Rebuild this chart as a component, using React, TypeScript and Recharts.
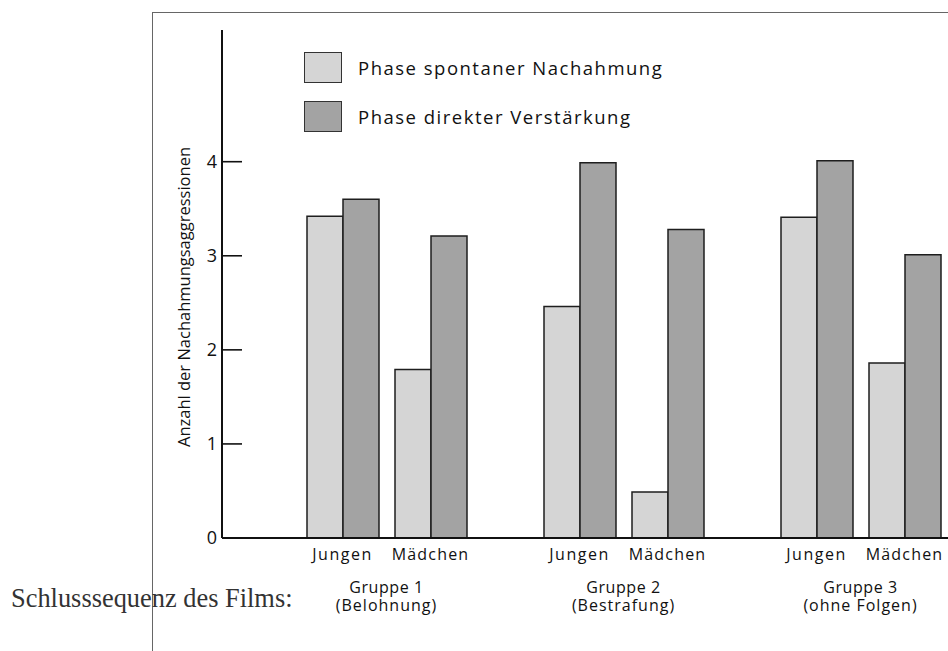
import React from "react";
import { Bar, BarChart, Legend, XAxis, YAxis } from "recharts";

const groups = ["Gruppe 1", "Gruppe 2", "Gruppe 3"];
const conditions = ["(Belohnung)", "(Bestrafung)", "(ohne Folgen)"];
const subLabels = ["Jungen", "Mädchen"];
const yTicks = [0, 1, 2, 3, 4];

// Jungen / Mädchen, je Phase
const jungenSpontan = [3.42, 2.46, 3.41];
const jungenDirekt = [3.6, 3.99, 4.01];
const maedchenSpontan = [1.79, 0.49, 1.86];
const maedchenDirekt = [3.21, 3.28, 3.01];

const seriesNames = ["Phase spontaner Nachahmung", "Phase direkter Verstärkung"];

const COLORS = {
  spontan: "#d5d5d5",
  direkt: "#a3a3a3",
  stroke: "#1e1e1e",
} as const;

const FONT = "'Open Sans', sans-serif";

const data = groups.map((g, i) => ({
  group: g,
  condition: conditions[i],
  jungenSpontan: jungenSpontan[i],
  jungenDirekt: jungenDirekt[i],
  maedchenSpontan: maedchenSpontan[i],
  maedchenDirekt: maedchenDirekt[i],
}));

function GroupTick({ x, y, payload, index }: any) {
  return (
    <g fontFamily={FONT} fill="#111" fontSize={16} textAnchor="middle">
      <text x={x - 44} y={y + 22} letterSpacing={1.5}>
        {subLabels[0]}
      </text>
      <text x={x + 44} y={y + 22} letterSpacing={1.2}>
        {subLabels[1]}
      </text>
      <text x={x} y={y + 55} letterSpacing={0.6}>
        {payload.value}
      </text>
      <text x={x} y={y + 73} letterSpacing={1}>
        {conditions[index]}
      </text>
    </g>
  );
}

function ValueTick({ x, y, payload }: any) {
  return (
    <g>
      <line x1={x + 5} x2={x + 25} y1={y} y2={y} stroke="#111" strokeWidth={1.6} />
      <text
        x={x}
        y={y + 6}
        textAnchor="end"
        fontFamily={FONT}
        fontSize={18}
        fill="#111"
      >
        {payload.value}
      </text>
    </g>
  );
}

function LegendBox() {
  const fills = [COLORS.spontan, COLORS.direkt];
  return (
    <div style={{ fontFamily: FONT }}>
      {seriesNames.map((name, i) => (
        <div
          key={name}
          style={{ display: "flex", alignItems: "center", height: 30, marginBottom: 19 }}
        >
          <div
            style={{
              width: 36,
              height: 29,
              background: fills[i],
              border: `1.5px solid #333`,
              marginRight: 16,
            }}
          />
          <span style={{ fontSize: 18.5, color: "#111", letterSpacing: 1.5 }}>{name}</span>
        </div>
      ))}
    </div>
  );
}

export default function App() {
  return (
    <div
      style={{
        position: "absolute",
        left: 0,
        top: 0,
        width: 948,
        height: 651,
        overflow: "hidden",
        background: "#fff",
      }}
    >
      <div
        style={{
          position: "absolute",
          left: 152,
          top: 12,
          width: 820,
          height: 700,
          borderLeft: "1.5px solid #666",
          borderTop: "1.5px solid #666",
        }}
      />
      <div
        style={{
          position: "absolute",
          left: 11,
          top: 583,
          fontFamily: "'Liberation Serif', serif",
          fontSize: 26.4,
          color: "#333",
          whiteSpace: "nowrap",
          lineHeight: "30px",
        }}
      >
        Schlusssequenz des Films:
      </div>
      <BarChart
        width={990}
        height={651}
        data={data}
        margin={{ top: 30, right: 11, bottom: 33, left: 0 }}
        barGap={0}
        style={{ position: "absolute", left: 0, top: 0 }}
      >
        <XAxis
          dataKey="group"
          height={80}
          padding={{ left: 46, right: 0 }}
          axisLine={{ stroke: "#111", strokeWidth: 2 }}
          tickLine={false}
          tickSize={0}
          tickMargin={0}
          interval={0}
          tick={<GroupTick />}
        />
        <YAxis
          width={222}
          domain={[0, 5.4]}
          ticks={yTicks}
          axisLine={{ stroke: "#111", strokeWidth: 2 }}
          tickLine={false}
          tickSize={0}
          tickMargin={5}
          tick={<ValueTick />}
          label={{
            content: ({ viewBox }: any) => (
              <text
                transform={`translate(${viewBox.x + 183}, ${viewBox.y + viewBox.height / 2 + 13}) rotate(-90)`}
                textAnchor="middle"
                dominantBaseline="central"
                fontFamily={FONT}
                fontSize={16.5}
                fill="#111"
              >
                Anzahl der Nachahmungsaggressionen
              </text>
            ),
          }}
        />
        <Legend
          verticalAlign="middle"
          align="center"
          layout="vertical"
          content={<LegendBox />}
          wrapperStyle={{ left: 304, top: 52, width: 500 }}
        />
        <Bar dataKey="jungenSpontan" barSize={36} fill={COLORS.spontan} stroke={COLORS.stroke} strokeWidth={1.5} isAnimationActive={false} />
        <Bar dataKey="jungenDirekt" barSize={36} fill={COLORS.direkt} stroke={COLORS.stroke} strokeWidth={1.5} isAnimationActive={false} />
        <Bar dataKey="spacer" barSize={16} legendType="none" isAnimationActive={false} />
        <Bar dataKey="maedchenSpontan" barSize={36} fill={COLORS.spontan} stroke={COLORS.stroke} strokeWidth={1.5} isAnimationActive={false} />
        <Bar dataKey="maedchenDirekt" barSize={36} fill={COLORS.direkt} stroke={COLORS.stroke} strokeWidth={1.5} isAnimationActive={false} />
      </BarChart>
    </div>
  );
}
